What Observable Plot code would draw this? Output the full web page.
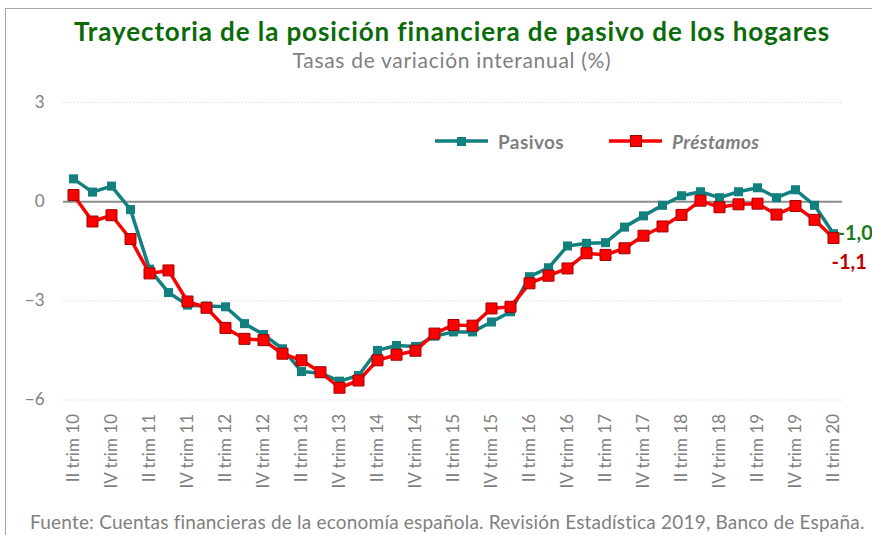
<!DOCTYPE html>
<html>
<head>
<meta charset="utf-8">
<script src="https://cdn.jsdelivr.net/npm/d3@7"></script>
<script src="https://cdn.jsdelivr.net/npm/@observablehq/plot@0.6"></script>
<style>
  body { margin:0; width:872px; height:535px; overflow:hidden; position:relative; background:#fff; font-family: Lato, "Open Sans", sans-serif; }
  #frame { position:absolute; left:5px; top:8px; width:900px; height:600px; border-left:1px solid #a6a6a6; border-top:1px solid #a6a6a6; }
  #title { position:absolute; left:0; width:904px; top:18px; text-align:center; font-weight:bold; font-size:26px; letter-spacing:0.9px; color:#0b6b0b; line-height:26px; }
  #subtitle { position:absolute; left:0; width:904px; top:49px; text-align:center; font-size:21px; letter-spacing:0.7px; color:#7f7f7f; line-height:21px; }
  #chart { position:absolute; left:0; top:80px; }
  #caption { position:absolute; left:30px; top:509px; font-size:19px; letter-spacing:0.2px; color:#7f7f7f; white-space:nowrap; line-height:26px; }
  .leg { position:absolute; top:129px; display:flex; align-items:center; font-size:19px; font-weight:bold; color:#7f7f7f; letter-spacing:0.4px; }
</style>
</head>
<body>
<div id="frame"></div>
<div id="title">Trayectoria de la posición financiera de pasivo de los hogares</div>
<div id="subtitle">Tasas de variación interanual (%)</div>
<div id="chart"></div>
<div class="leg" style="left:434px"><svg width="56" height="24"><line x1="1" y1="12" x2="54" y2="12" stroke="#138080" stroke-width="3.5"/><rect x="23" y="8" width="9" height="9" fill="#138080"/></svg><span style="margin-left:8px">Pasivos</span></div>
<div class="leg" style="left:608px"><svg width="56" height="24"><line x1="1" y1="12" x2="54" y2="12" stroke="#ff0000" stroke-width="3.5"/><rect x="22.5" y="6.5" width="11" height="11" fill="#ff0000" stroke="#a00000" stroke-width="1"/></svg><span style="margin-left:8px;font-style:italic">Préstamos</span></div>
<div id="caption">Fuente: Cuentas financieras de la economía española. Revisión Estadística 2019, Banco de España.</div>
<script>
const quarters = [
  "II trim 10","III trim 10","IV trim 10",
  "I trim 11","II trim 11","III trim 11","IV trim 11",
  "I trim 12","II trim 12","III trim 12","IV trim 12",
  "I trim 13","II trim 13","III trim 13","IV trim 13",
  "I trim 14","II trim 14","III trim 14","IV trim 14",
  "I trim 15","II trim 15","III trim 15","IV trim 15",
  "I trim 16","II trim 16","III trim 16","IV trim 16",
  "I trim 17","II trim 17","III trim 17","IV trim 17",
  "I trim 18","II trim 18","III trim 18","IV trim 18",
  "I trim 19","II trim 19","III trim 19","IV trim 19",
  "I trim 20","II trim 20"
];
const tickLabels = [
  "II trim 10","IV trim 10","II trim 11","IV trim 11","II trim 12","IV trim 12",
  "II trim 13","IV trim 13","II trim 14","IV trim 14","II trim 15","IV trim 15",
  "II trim 16","IV trim 16","II trim 17","IV trim 17","II trim 18","IV trim 18",
  "II trim 19","IV trim 19","II trim 20"
];
const pasivos = [0.69,0.29,0.47,-0.24,-2.04,-2.75,-3.13,-3.16,-3.18,-3.69,-4.02,-4.45,-5.14,-5.19,-5.43,-5.26,-4.50,-4.35,-4.38,-4.07,-3.94,-3.94,-3.64,-3.33,-2.27,-2.00,-1.34,-1.26,-1.24,-0.77,-0.43,-0.11,0.18,0.30,0.12,0.30,0.42,0.12,0.36,-0.11,-0.97];
const prestamos = [0.20,-0.60,-0.41,-1.13,-2.17,-2.08,-3.02,-3.21,-3.82,-4.15,-4.19,-4.60,-4.80,-5.16,-5.63,-5.41,-4.80,-4.63,-4.51,-3.99,-3.73,-3.75,-3.23,-3.18,-2.47,-2.24,-2.02,-1.56,-1.61,-1.41,-1.03,-0.75,-0.40,0.03,-0.17,-0.08,-0.06,-0.39,-0.13,-0.55,-1.10];
const yTicks = [3, 0, -3, -6];

const pData = quarters.map((q, i) => ({q, v: pasivos[i]}));
const rData = quarters.map((q, i) => ({q, v: prestamos[i]}));
const fmt = v => v.toFixed(1).replace(".", ",");
const lastP = pData[pData.length - 1];
const lastR = rData[rData.length - 1];

const teal = "#138080";
const red = "#ff0000";

const chart = Plot.plot({
  width: 872,
  height: 420,
  marginLeft: 63,
  marginRight: 30,
  marginTop: 22,
  marginBottom: 100.5,
  style: {fontFamily: "Lato, 'Open Sans', sans-serif", background: "transparent", overflow: "visible"},
  x: {type: "point", domain: quarters, padding: 0.43},
  y: {domain: [-6, 3]},
  marks: [
    Plot.ruleY(yTicks.filter(d => d !== 0), {stroke: "#dcdcdc", strokeWidth: 1, strokeDasharray: "1.5,2"}),
    Plot.ruleY([0], {stroke: "#8c8c8c", strokeWidth: 2}),
    Plot.axisY({ticks: yTicks, tickSize: 0, tickPadding: 19, fontSize: 17, color: "#7f7f7f", label: null}),
    Plot.axisX({ticks: tickLabels, tickSize: 0, tickPadding: 14, tickRotate: -90, fontSize: 17, color: "#7f7f7f", label: null}),
    Plot.line(pData, {x: "q", y: "v", stroke: teal, strokeWidth: 3.5}),
    Plot.dot(pData, {x: "q", y: "v", symbol: "square", r: 5.1, fill: teal, stroke: "none"}),
    Plot.line(rData, {x: "q", y: "v", stroke: red, strokeWidth: 3.5}),
    Plot.dot(rData, {x: "q", y: "v", symbol: "square", r: 6.2, fill: red, stroke: "#a00000", strokeWidth: 1}),
    Plot.text([lastP], {x: "q", y: "v", text: d => fmt(d.v), dx: 4, dy: 0, textAnchor: "start", fill: "#1a7a1a", fontWeight: "bold", fontSize: 20}),
    Plot.text([lastR], {x: "q", y: "v", text: d => fmt(d.v), dx: -2, dy: 25, textAnchor: "start", fill: "#c00000", fontWeight: "bold", fontSize: 20})
  ]
});
document.getElementById("chart").appendChild(chart);
</script>
</body>
</html>
